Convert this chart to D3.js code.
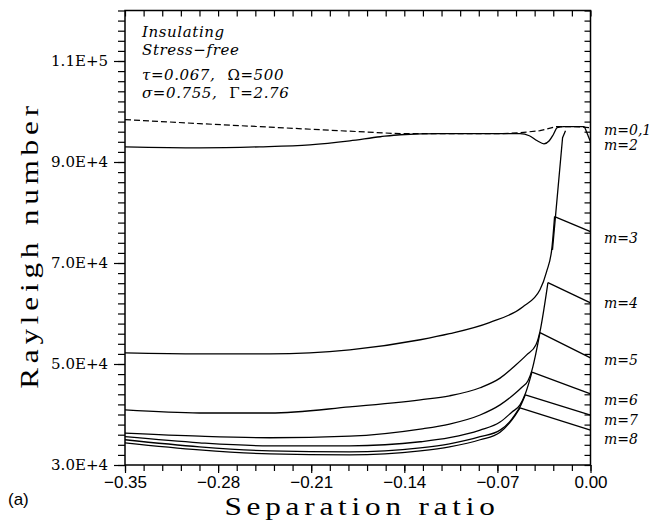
<!DOCTYPE html>
<html>
<head>
<meta charset="utf-8">
<script src="https://cdn.jsdelivr.net/npm/d3@7"></script>
<style>
  body { margin: 0; background: #fff; }
  svg { display: block; }
</style>
</head>
<body>
<svg id="chart" width="654" height="521"></svg>
<script>
// ---- axis ticks and labels ----
const xMajorTicks = [-0.35, -0.28, -0.21, -0.14, -0.07, 0.00];
const xTickLabels = ["\u22120.35", "\u22120.28", "\u22120.21", "\u22120.14", "\u22120.07", "0.00"];
const yMajorTicks = [30000, 50000, 70000, 90000, 110000];
const yTickLabels = ["3.0E+4", "5.0E+4", "7.0E+4", "9.0E+4", "1.1E+5"];

// ---- critical Rayleigh number vs separation ratio, one array per mode ----
// [separation ratio, Rayleigh number]
const modeM01 = [[-0.350, 98400], [-0.294, 97600], [-0.241, 96900], [-0.189, 96200], [-0.143, 95600],
  [-0.113, 95600], [-0.068, 95600], [-0.053, 95800], [-0.038, 96200], [-0.026, 97000], [-0.012, 97000], [0.000, 96800]];
const modeM2 = [[-0.350, 93000], [-0.294, 92800], [-0.249, 93000], [-0.211, 93400], [-0.181, 94200], [-0.158, 95000],
  [-0.143, 95400], [-0.113, 95600], [-0.083, 95600], [-0.053, 95600], [-0.046, 95200], [-0.040, 94200], [-0.035, 93600],
  [-0.031, 94200], [-0.028, 95400], [-0.025, 96800], [-0.020, 97000], [-0.0045, 97000], [0.000, 94000]];
const modeM2Branch = [[-0.0286, 72600], [-0.0210, 94800], [-0.0188, 96200]];
const modeM3 = [[-0.350, 52200], [-0.294, 52000], [-0.241, 52000], [-0.181, 52800], [-0.128, 54800], [-0.106, 56000],
  [-0.076, 58200], [-0.051, 61300], [-0.038, 64700], [-0.033, 68300], [-0.029, 73000], [-0.027, 79200], [0.000, 76200]];
const modeM4 = [[-0.350, 40900], [-0.294, 40300], [-0.241, 40300], [-0.181, 41500], [-0.128, 42900], [-0.106, 43700],
  [-0.083, 45300], [-0.068, 47200], [-0.057, 49600], [-0.048, 51800], [-0.041, 53800], [-0.038, 56400], [-0.035, 60900],
  [-0.032, 66100], [0.000, 62100]];
const modeM5 = [[-0.350, 36300], [-0.294, 35700], [-0.241, 35400], [-0.181, 35700], [-0.128, 37100], [-0.106, 38100],
  [-0.083, 39900], [-0.068, 41900], [-0.057, 44100], [-0.052, 45300], [-0.047, 46700], [-0.044, 48800], [-0.041, 52200],
  [-0.038, 56200], [0.000, 51200]];
const modeM6 = [[-0.350, 35600], [-0.294, 34400], [-0.241, 33800], [-0.181, 33800], [-0.128, 34600], [-0.106, 35400],
  [-0.083, 36900], [-0.068, 38500], [-0.059, 40500], [-0.053, 41900], [-0.049, 44100], [-0.044, 48400], [0.000, 44100]];
const modeM7 = [[-0.350, 35000], [-0.294, 33600], [-0.241, 32800], [-0.181, 32600], [-0.128, 33400], [-0.106, 34200],
  [-0.083, 35600], [-0.068, 36900], [-0.061, 38500], [-0.057, 39900], [-0.053, 41500], [-0.049, 43900], [0.000, 39900]];
const modeM8 = [[-0.350, 34400], [-0.294, 33000], [-0.241, 32200], [-0.181, 32000], [-0.128, 32800], [-0.106, 33600],
  [-0.083, 35000], [-0.068, 36500], [-0.061, 38300], [-0.057, 39700], [-0.053, 41300], [0.000, 36900]];

const modeLabels = ["m=0,1", "m=2", "m=3", "m=4", "m=5", "m=6", "m=7", "m=8"];
const modeLabelValues = [96400, 93400, 75000, 62100, 50800, 42900, 38900, 35100];

// ---- layout ----
const svg = d3.select("#chart");
const plot = { left: 125, right: 590.5, top: 10.5, bottom: 465 };

const x = d3.scaleLinear().domain([-0.35, 0]).range([plot.left, plot.right]);
const y = d3.scaleLinear().domain([30000, 120000]).range([plot.bottom, plot.top]);

const xMinor = d3.range(0, 26).map(i => -0.35 + i * 0.014);
const yMinor = d3.range(0, 46).map(i => 30000 + i * 2000);

const serif = "'DejaVu Serif', serif";
const titleSerif = "'Liberation Serif', 'Times New Roman', serif";
const sans = "'Liberation Sans', Arial, sans-serif";

function styleAxis(g) {
  g.select(".domain").remove();
  g.selectAll("line").attr("stroke", "#000").attr("stroke-width", 1.2);
}

// left axis: outward ticks
svg.append("g").attr("transform", `translate(${plot.left},0)`)
  .call(d3.axisLeft(y).tickValues(yMinor).tickSize(7).tickFormat(""))
  .call(styleAxis);
svg.append("g").attr("transform", `translate(${plot.left},0)`)
  .call(d3.axisLeft(y).tickValues(yMajorTicks).tickSize(11).tickPadding(6)
    .tickFormat((d, i) => yTickLabels[i]))
  .call(styleAxis)
  .call(g => g.selectAll("text").attr("font-family", serif).attr("font-size", 15).attr("fill", "#000"));

// bottom axis: outward ticks
svg.append("g").attr("transform", `translate(0,${plot.bottom})`)
  .call(d3.axisBottom(x).tickValues(xMinor).tickSize(6).tickFormat(""))
  .call(styleAxis);
svg.append("g").attr("transform", `translate(0,${plot.bottom})`)
  .call(d3.axisBottom(x).tickValues(xMajorTicks).tickSize(8).tickPadding(3)
    .tickFormat((d, i) => xTickLabels[i]))
  .call(styleAxis)
  .call(g => g.selectAll("text").attr("font-family", sans).attr("font-size", 17).attr("fill", "#000"));

// top and right axes: inward mirror ticks
svg.append("g").attr("transform", `translate(0,${plot.top})`)
  .call(d3.axisTop(x).tickValues(xMinor).tickSize(-6).tickFormat(""))
  .call(styleAxis);
svg.append("g").attr("transform", `translate(${plot.right},0)`)
  .call(d3.axisRight(y).tickValues(yMinor).tickSize(-6).tickFormat(""))
  .call(styleAxis);

// frame
svg.append("rect")
  .attr("x", plot.left).attr("y", plot.top)
  .attr("width", plot.right - plot.left).attr("height", plot.bottom - plot.top)
  .attr("fill", "none").attr("stroke", "#000").attr("stroke-width", 1.5);

// ---- curves ----
svg.append("clipPath").attr("id", "clip").append("rect")
  .attr("x", plot.left).attr("y", plot.top)
  .attr("width", plot.right - plot.left).attr("height", plot.bottom - plot.top);
const curves = svg.append("g").attr("clip-path", "url(#clip)")
  .attr("fill", "none").attr("stroke", "#000").attr("stroke-linejoin", "round");

const smooth = d3.line().x(d => x(d[0])).y(d => y(d[1])).curve(d3.curveMonotoneX);
const straight = d3.line().x(d => x(d[0])).y(d => y(d[1]));

// m = 0,1 : dashed
curves.append("path").attr("d", straight(modeM01))
  .attr("stroke-width", 1.2).attr("stroke-dasharray", "6,3");

// solid modes: smooth body up to the peak, straight segment from the peak to the 0.00 value
[modeM2, modeM3, modeM4, modeM5, modeM6, modeM7, modeM8].forEach(series => {
  const body = series.slice(0, series.length - 1);
  const tail = series.slice(series.length - 2);
  curves.append("path").attr("d", smooth(body)).attr("stroke-width", 1.3);
  curves.append("path").attr("d", straight(tail)).attr("stroke-width", 1.3);
});
curves.append("path").attr("d", straight(modeM2Branch)).attr("stroke-width", 1.3);

// ---- mode labels at the right edge ----
svg.append("g").selectAll("text").data(modeLabels).join("text")
  .attr("x", 604)
  .attr("y", (d, i) => y(modeLabelValues[i]))
  .attr("dy", "0.35em")
  .attr("font-family", serif).attr("font-style", "italic").attr("font-size", 14)
  .attr("fill", "#000")
  .text(d => d);

// ---- parameter block ----
const notes = svg.append("g").attr("font-family", serif).attr("font-style", "italic")
  .attr("font-size", 15).attr("letter-spacing", 0.6).attr("fill", "#000");
notes.append("text").attr("x", 142).attr("y", 37).text("Insulating");
notes.append("text").attr("x", 142).attr("y", 55).text("Stress\u2212free");
const l3 = notes.append("text").attr("x", 142).attr("y", 80);
l3.append("tspan").text("\u03c4=0.067,");
l3.append("tspan").attr("dx", 12).attr("font-style", "normal").text("\u03a9");
l3.append("tspan").text("=500");
const l4 = notes.append("text").attr("x", 142).attr("y", 98);
l4.append("tspan").text("\u03c3=0.755,");
l4.append("tspan").attr("dx", 12).attr("font-style", "normal").text("\u0393");
l4.append("tspan").text("=2.76");

// ---- axis titles ----
svg.append("text")
  .attr("transform", "translate(362,515) scale(1.2,1)")
  .attr("text-anchor", "middle")
  .attr("font-family", titleSerif).attr("font-size", 26).attr("letter-spacing", 4)
  .attr("fill", "#000")
  .text("Separation ratio");
svg.append("text")
  .attr("transform", "translate(38,245) rotate(-90) scale(1.2,1)")
  .attr("text-anchor", "middle")
  .attr("font-family", titleSerif).attr("font-size", 26).attr("letter-spacing", 4)
  .attr("fill", "#000")
  .text("Rayleigh number");

// panel tag
svg.append("text").attr("x", 8).attr("y", 505)
  .attr("font-family", sans).attr("font-size", 17).attr("fill", "#000")
  .text("(a)");
</script>
</body>
</html>
